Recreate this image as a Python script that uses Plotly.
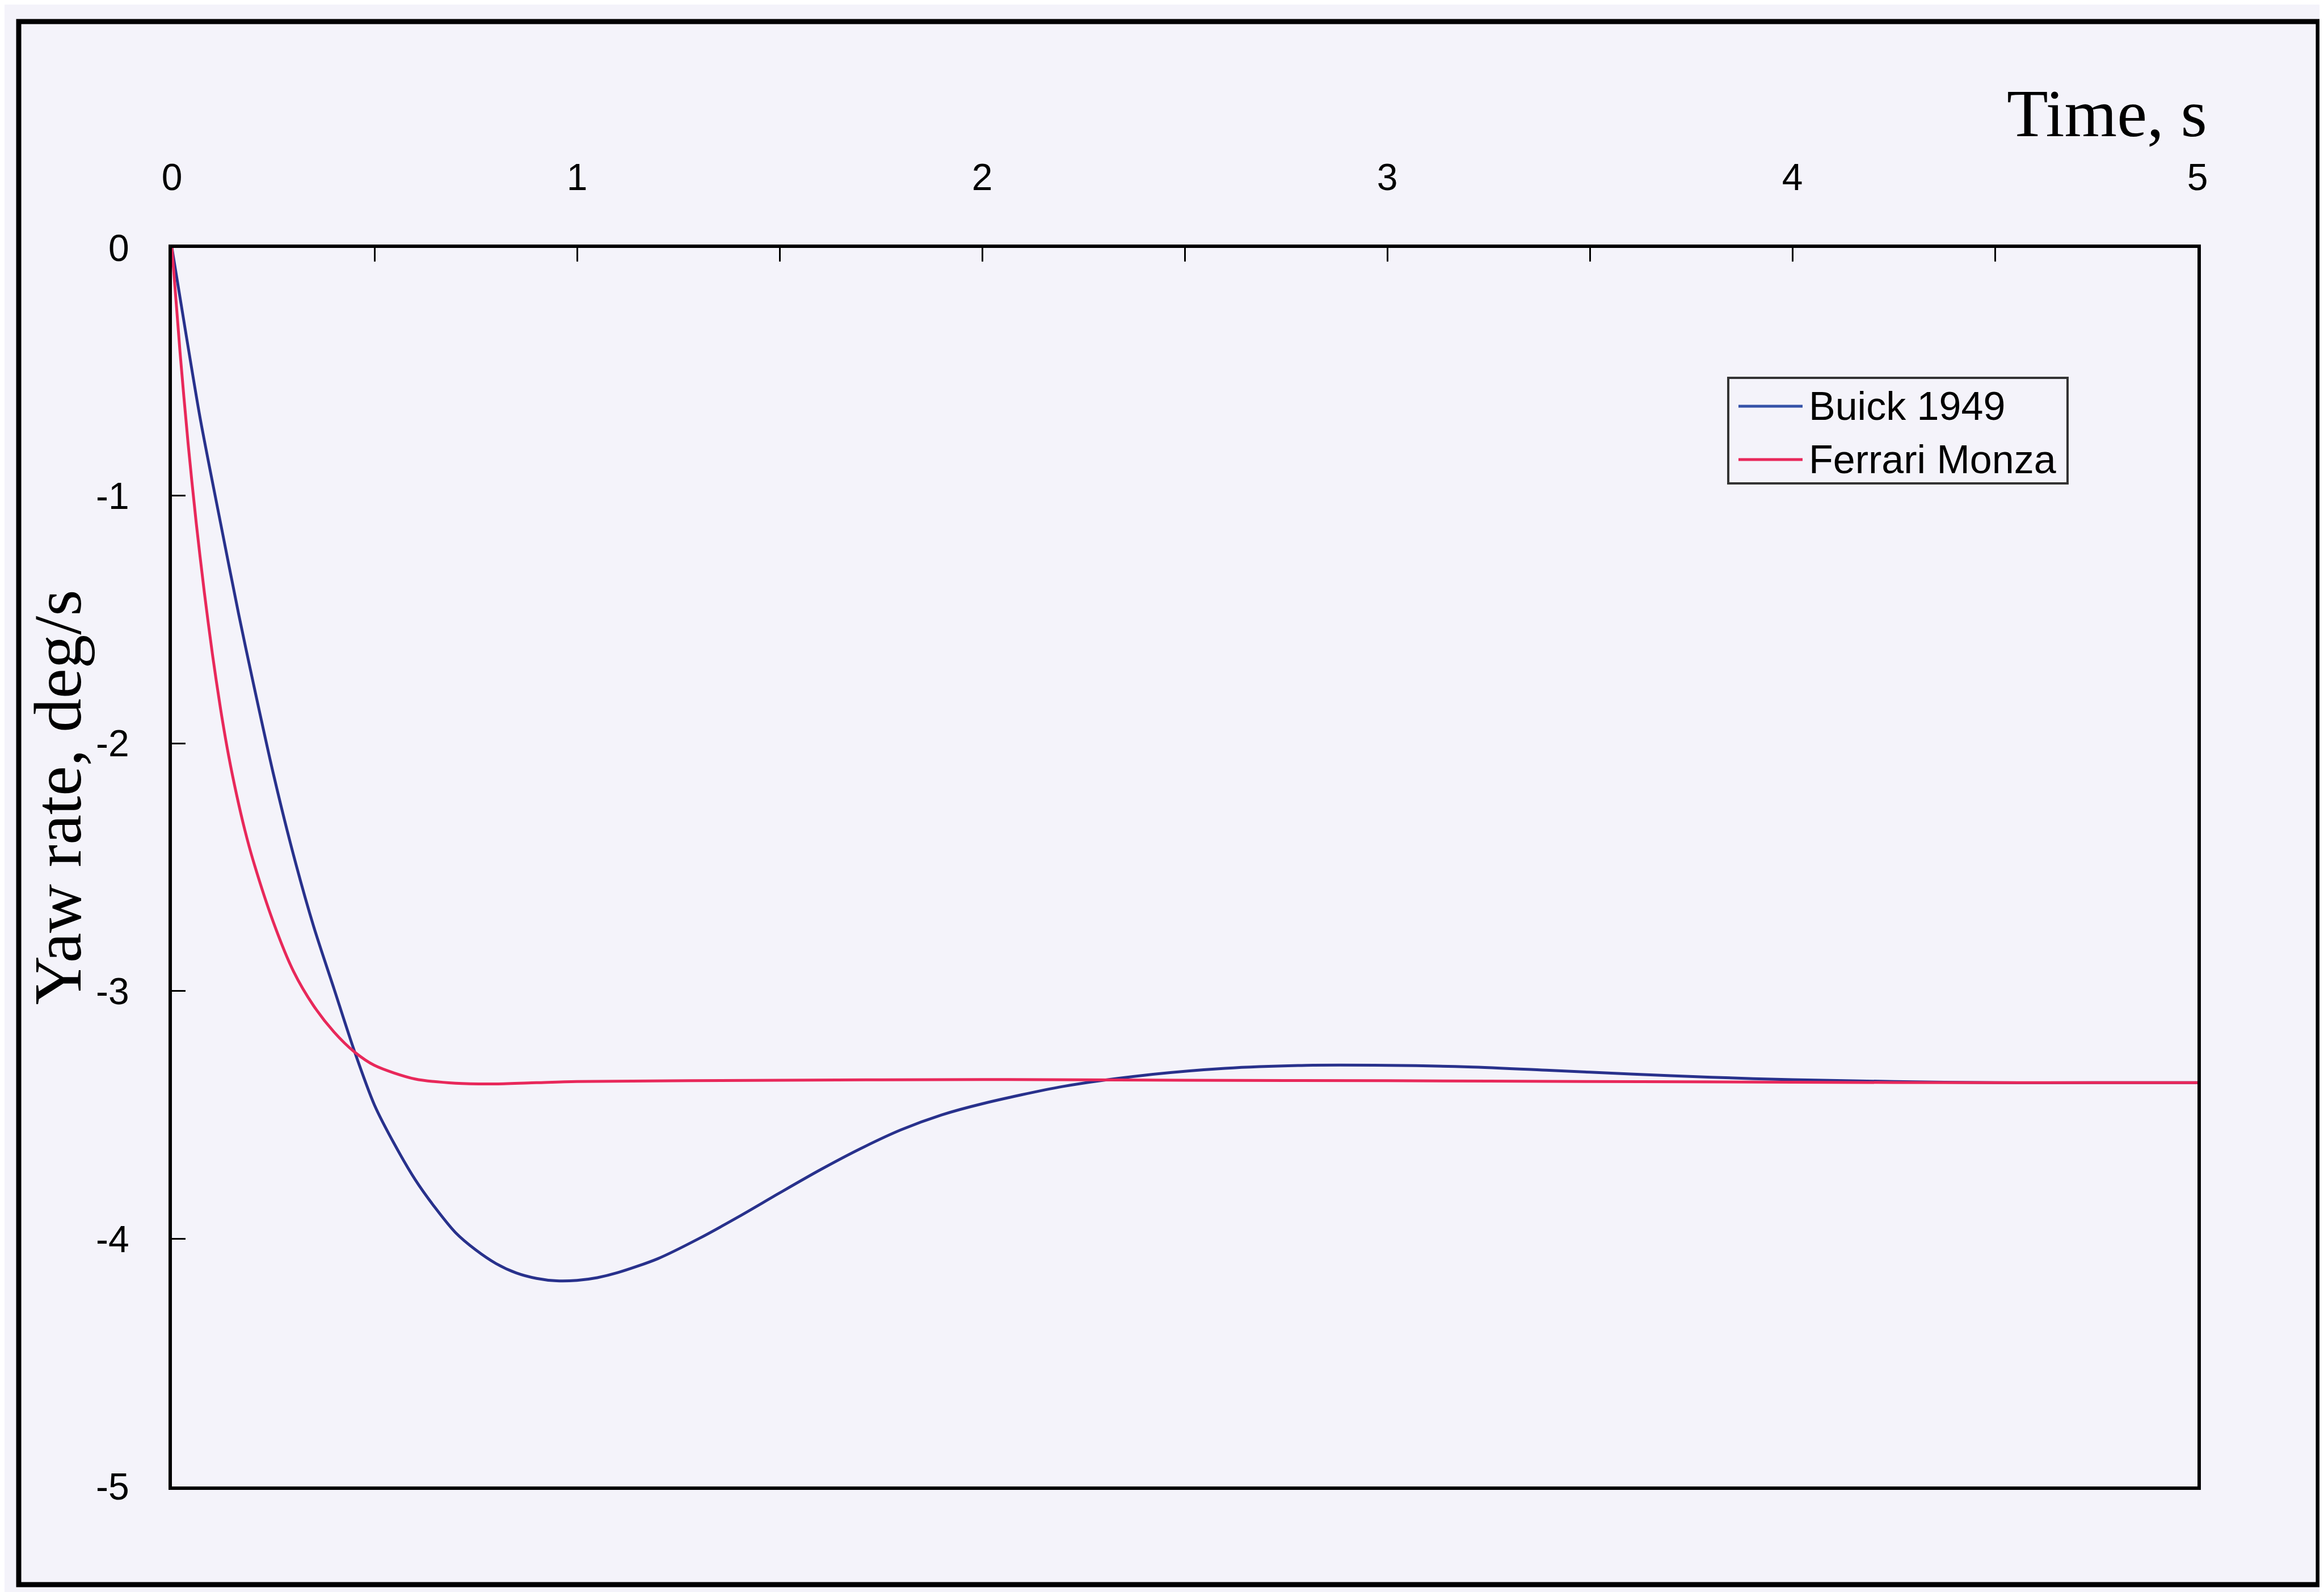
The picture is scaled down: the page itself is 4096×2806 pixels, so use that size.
import plotly.graph_objects as go

# ---------------- data ----------------
time_buick = [0, 0.035, 0.07, 0.12, 0.165, 0.2, 0.25, 0.3, 0.35, 0.4, 0.45, 0.5,
              0.55, 0.6, 0.65, 0.7, 0.75, 0.8, 0.85, 0.9, 0.95, 1.0, 1.05, 1.1,
              1.2, 1.3, 1.4, 1.5, 1.6, 1.7, 1.8, 1.9, 2.0, 2.2, 2.4, 2.6, 2.8,
              3.0, 3.2, 3.4, 3.6, 3.8, 4.0, 4.25, 4.5, 4.75, 5.0]
yaw_buick = [0, -0.35, -0.69, -1.11, -1.48, -1.75, -2.12, -2.45, -2.74, -2.99, -3.24, -3.46,
             -3.62, -3.76, -3.875, -3.975, -4.045, -4.10, -4.138, -4.16, -4.17, -4.168, -4.157, -4.137,
             -4.08, -4.0, -3.91, -3.815, -3.722, -3.636, -3.56, -3.50, -3.455, -3.385, -3.34, -3.312, -3.30,
             -3.30, -3.306, -3.32, -3.335, -3.348, -3.358, -3.365, -3.37, -3.37, -3.37]

time_ferrari = [0, 0.02, 0.04, 0.06, 0.08, 0.1, 0.12, 0.14, 0.16, 0.18, 0.2, 0.25,
                0.3, 0.35, 0.4, 0.45, 0.5, 0.6, 0.7, 0.8, 0.9, 1.0, 1.5, 2.0,
                2.5, 3.0, 3.5, 4.0, 4.5, 5.0]
yaw_ferrari = [0, -0.42, -0.79, -1.11, -1.39, -1.64, -1.86, -2.05, -2.21, -2.35, -2.47, -2.72,
               -2.92, -3.06, -3.165, -3.245, -3.30, -3.355, -3.372, -3.375, -3.37, -3.365, -3.36, -3.357,
               -3.36, -3.362, -3.365, -3.368, -3.37, -3.37]

series_names = ["Buick 1949", "Ferrari Monza"]
x_tickvals = [0, 0.5, 1, 1.5, 2, 2.5, 3, 3.5, 4, 4.5, 5]
x_ticktext = ["0", "", "1", "", "2", "", "3", "", "4", "", "5"]
y_tickvals = [0, -1, -2, -3, -4, -5]
y_ticktext = ["0", "-1", "-2", "-3", "-4", "-5"]
x_title = "Time, s"
y_title = "Yaw rate, deg/s"

# ---------------- styling / layout ----------------
W, H = 4096, 2806
L, R, T, B = 295, 3865, 429, 2612          # plot area in pixels
BG = "#F4F3FA"
BLUE = "#28318C"
RED = "#E8285A"
SANS = "Liberation Sans, Arial, sans-serif"
SERIF = "Liberation Serif, Times New Roman, serif"


def px(xp):
    return (xp - L) / (R - L)


def py(yp):
    return (B - yp) / (B - T)


fig = go.Figure()
fig.add_trace(go.Scatter(x=time_buick, y=yaw_buick, mode="lines", name=series_names[0],
                         line=dict(color=BLUE, width=5, shape="spline", smoothing=0.8),
                         showlegend=False))
fig.add_trace(go.Scatter(x=time_ferrari, y=yaw_ferrari, mode="lines", name=series_names[1],
                         line=dict(color=RED, width=5, shape="spline", smoothing=0.8),
                         showlegend=False))

axis_common = dict(showline=True, linewidth=6, linecolor="black", mirror=True,
                   showgrid=False, zeroline=False, ticks="inside", ticklen=24,
                   tickwidth=3, tickcolor="black",
                   tickfont=dict(family=SANS, size=66, color="black"))

fig.update_xaxes(range=[0, 5], side="top", tickmode="array", tickvals=x_tickvals,
                 ticktext=x_ticktext, ticklabelstandoff=70, **axis_common)
fig.update_yaxes(range=[-5, 0], tickmode="array", tickvals=y_tickvals,
                 ticktext=y_ticktext, ticklabelstandoff=56, **axis_common)

shapes = [
    # outer frame
    dict(type="rect", xref="paper", yref="paper", x0=px(25), x1=px(4078), y0=py(2785), y1=py(30),
         line=dict(color="black", width=9), fillcolor="rgba(0,0,0,0)", layer="below"),
    # legend box
    dict(type="rect", xref="paper", yref="paper", x0=px(3038), x1=px(3636), y0=py(844), y1=py(658),
         line=dict(color="#333333", width=4), fillcolor=BG),
    dict(type="line", xref="paper", yref="paper", x0=px(3056), x1=px(3169), y0=py(708), y1=py(708),
         line=dict(color="#3552A8", width=5)),
    dict(type="line", xref="paper", yref="paper", x0=px(3056), x1=px(3169), y0=py(802), y1=py(802),
         line=dict(color=RED, width=5)),
]

annotations = [
    dict(text=x_title, xref="paper", yref="paper", x=px(3884), y=py(192), xanchor="right",
         yanchor="middle", showarrow=False, font=dict(family=SERIF, size=119, color="black")),
    dict(text=y_title, xref="paper", yref="paper", x=px(94), y=py(1397), xanchor="center",
         yanchor="middle", textangle=-90, showarrow=False,
         font=dict(family=SERIF, size=119, color="black")),
    dict(text=series_names[0], xref="paper", yref="paper", x=px(3178), y=py(708), xanchor="left",
         yanchor="middle", showarrow=False, font=dict(family=SANS, size=70, color="black")),
    dict(text=series_names[1], xref="paper", yref="paper", x=px(3178), y=py(802), xanchor="left",
         yanchor="middle", showarrow=False, font=dict(family=SANS, size=70, color="black")),
]

fig.update_layout(width=W, height=H, autosize=False,
                  margin=dict(l=L, r=W - R, t=T, b=H - B, pad=0),
                  paper_bgcolor=BG, plot_bgcolor=BG,
                  shapes=shapes, annotations=annotations, showlegend=False)

fig.write_html("out.html", config={"displayModeBar": False})
